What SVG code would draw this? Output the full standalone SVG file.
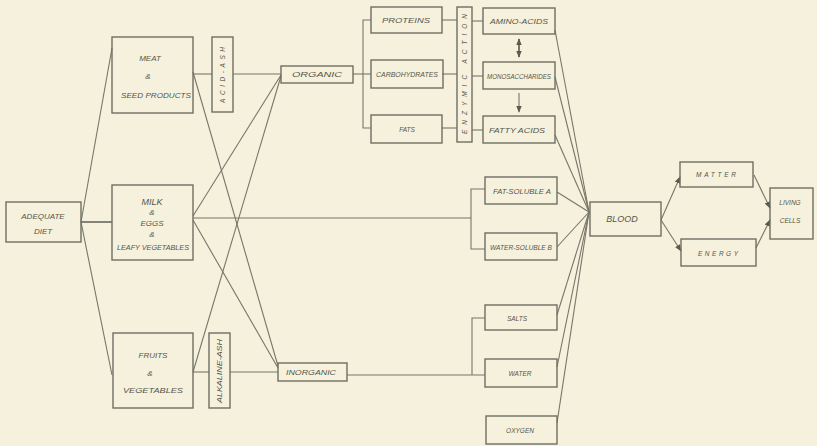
<svg xmlns="http://www.w3.org/2000/svg" width="817" height="446" viewBox="0 0 817 446">
<defs>
<style>
.bx{fill:none;stroke:#6e6e62;stroke-width:1.4}
.ln{fill:none;stroke:#76766a;stroke-width:1.1}
.t{font-family:"Liberation Sans",Arial,sans-serif;font-style:italic;font-size:8px;fill:#55554a;text-anchor:middle}
.s{font-size:6.5px}
.b{font-size:9px}
</style>
<marker id="ah" viewBox="0 0 10 10" refX="9" refY="5" markerWidth="7" markerHeight="7" markerUnits="userSpaceOnUse" orient="auto-start-reverse">
<path d="M0,1 L10,5 L0,9 Z" fill="#5a5a4e"/>
</marker>
</defs>
<rect width="817" height="446" fill="#f5f1dc"/>

<g id="connectors">
<line class="ln" x1="81" y1="222" x2="112" y2="48"/>
<line class="ln" x1="81" y1="222" x2="112" y2="222" style="stroke-width:1.8"/>
<line class="ln" x1="81" y1="222" x2="112" y2="375"/>
<line class="ln" x1="193" y1="74" x2="212" y2="74"/>
<line class="ln" x1="233" y1="74" x2="281" y2="74"/>
<line class="ln" x1="193" y1="372" x2="209" y2="372"/>
<line class="ln" x1="230" y1="372" x2="278" y2="372"/>
<line class="ln" x1="193" y1="72" x2="278" y2="366"/>
<line class="ln" x1="193" y1="216" x2="281" y2="75"/>
<line class="ln" x1="193" y1="220" x2="278" y2="368"/>
<line class="ln" x1="193" y1="372" x2="281" y2="76"/>
<line class="ln" x1="193" y1="218" x2="471" y2="218"/>
<polyline class="ln" points="485,189 471,189 471,249 485,249"/>
<line class="ln" x1="353" y1="74" x2="371" y2="74"/>
<polyline class="ln" points="371,20 363,20 363,128 371,128"/>
<line class="ln" x1="442" y1="20" x2="457" y2="20"/>
<line class="ln" x1="442" y1="74" x2="457" y2="74"/>
<line class="ln" x1="442" y1="128" x2="457" y2="128"/>
<line class="ln" x1="472" y1="21" x2="483" y2="21"/>
<line class="ln" x1="472" y1="76" x2="483" y2="76"/>
<line class="ln" x1="472" y1="130" x2="483" y2="130"/>
<line class="ln" x1="347" y1="375" x2="485" y2="375"/>
<polyline class="ln" points="472,375 472,318 485,318"/>
<line class="ln" x1="519" y1="39" x2="519" y2="57" style="stroke-width:2" marker-start="url(#ah)" marker-end="url(#ah)"/>
<line class="ln" x1="519" y1="93" x2="519" y2="112" marker-end="url(#ah)"/>
<line class="ln" x1="555" y1="30" x2="589" y2="212"/>
<line class="ln" x1="555" y1="77" x2="589" y2="212"/>
<line class="ln" x1="555" y1="135" x2="589" y2="212"/>
<line class="ln" x1="557" y1="192" x2="589" y2="212"/>
<line class="ln" x1="557" y1="247" x2="589" y2="212"/>
<line class="ln" x1="557" y1="315" x2="589" y2="212"/>
<line class="ln" x1="557" y1="367" x2="589" y2="212"/>
<line class="ln" x1="557" y1="423" x2="589" y2="212"/>
<line class="ln" x1="661" y1="220" x2="680" y2="177" marker-end="url(#ah)"/>
<line class="ln" x1="661" y1="220" x2="681" y2="251" marker-end="url(#ah)"/>
<line class="ln" x1="754" y1="175" x2="770" y2="208" marker-end="url(#ah)"/>
<line class="ln" x1="756" y1="248" x2="770" y2="220" marker-end="url(#ah)"/>
</g>

<g id="adequate-diet"><rect class="bx" x="6" y="202" width="75" height="40"/>
<text class="t" x="43" y="219">ADEQUATE</text><text class="t" x="43" y="234">DIET</text></g>

<g id="meat"><rect class="bx" x="112" y="37" width="81" height="76"/>
<text class="t" x="150" y="61">MEAT</text><text class="t" x="148" y="79">&amp;</text>
<text class="t" x="156" y="98" textLength="70" lengthAdjust="spacingAndGlyphs">SEED PRODUCTS</text></g>

<g id="milk"><rect class="bx" x="112" y="185" width="81" height="75"/>
<text class="t b" x="152" y="205">MILK</text><text class="t" x="152" y="215">&amp;</text>
<text class="t" x="152" y="226">EGGS</text><text class="t" x="152" y="237">&amp;</text>
<text class="t" x="153" y="250" textLength="72" lengthAdjust="spacingAndGlyphs">LEAFY VEGETABLES</text></g>

<g id="fruits"><rect class="bx" x="113" y="333" width="80" height="75"/>
<text class="t" x="153" y="358">FRUITS</text><text class="t" x="150" y="376">&amp;</text>
<text class="t" x="153" y="393" textLength="60" lengthAdjust="spacingAndGlyphs">VEGETABLES</text></g>

<g id="acid-ash"><rect class="bx" x="212" y="37" width="21" height="75"/>
<text class="t s" transform="translate(225,75) rotate(-90)" textLength="56" lengthAdjust="spacing">ACID-ASH</text></g>

<g id="alkaline-ash"><rect class="bx" x="209" y="333" width="21" height="75"/>
<text class="t s" transform="translate(222,371) rotate(-90)" textLength="64" lengthAdjust="spacingAndGlyphs">ALKALINE-ASH</text></g>

<g id="organic"><rect class="bx" x="281" y="66" width="72" height="17"/>
<text class="t s" x="317" y="77" textLength="50" lengthAdjust="spacingAndGlyphs">ORGANIC</text></g>

<g id="inorganic"><rect class="bx" x="278" y="363" width="69" height="18"/>
<text class="t s" x="311" y="375" textLength="50" lengthAdjust="spacingAndGlyphs">INORGANIC</text></g>

<g id="proteins"><rect class="bx" x="371" y="7" width="71" height="26"/>
<text class="t s" x="406" y="23" textLength="48" lengthAdjust="spacingAndGlyphs">PROTEINS</text></g>
<g id="carbohydrates"><rect class="bx" x="371" y="60" width="72" height="28"/>
<text class="t s" x="407" y="77" textLength="62" lengthAdjust="spacingAndGlyphs">CARBOHYDRATES</text></g>
<g id="fats"><rect class="bx" x="371" y="115" width="71" height="28"/>
<text class="t s" x="407" y="132">FATS</text></g>

<g id="enzymic-action"><rect class="bx" x="457" y="7" width="15" height="135"/>
<text class="t s" transform="translate(467,74) rotate(-90)" textLength="120" lengthAdjust="spacing">ENZYMIC ACTION</text></g>

<g id="amino-acids"><rect class="bx" x="483" y="8" width="72" height="26"/>
<text class="t s" x="519" y="24" textLength="58" lengthAdjust="spacingAndGlyphs">AMINO-ACIDS</text></g>
<g id="monosaccharides"><rect class="bx" x="483" y="62" width="72" height="27"/>
<text class="t s" x="519" y="79" textLength="64" lengthAdjust="spacingAndGlyphs">MONOSACCHARIDES</text></g>
<g id="fatty-acids"><rect class="bx" x="483" y="116" width="72" height="27"/>
<text class="t s" x="517" y="133" textLength="56" lengthAdjust="spacingAndGlyphs">FATTY ACIDS</text></g>

<g id="fat-soluble-a"><rect class="bx" x="485" y="177" width="72" height="27"/>
<text class="t s" x="522" y="194" textLength="58" lengthAdjust="spacingAndGlyphs">FAT-SOLUBLE A</text></g>
<g id="water-soluble-b"><rect class="bx" x="485" y="233" width="72" height="27"/>
<text class="t s" x="521" y="250" textLength="62" lengthAdjust="spacingAndGlyphs">WATER-SOLUBLE B</text></g>

<g id="salts"><rect class="bx" x="485" y="305" width="72" height="25"/>
<text class="t s" x="517" y="321">SALTS</text></g>
<g id="water"><rect class="bx" x="485" y="359" width="72" height="28"/>
<text class="t s" x="520" y="376">WATER</text></g>
<g id="oxygen"><rect class="bx" x="486" y="416" width="71" height="28"/>
<text class="t s" x="520" y="433">OXYGEN</text></g>

<g id="blood"><rect class="bx" x="590" y="202" width="71" height="34"/>
<text class="t b" x="622" y="222">BLOOD</text></g>
<g id="matter"><rect class="bx" x="680" y="162" width="73" height="25"/>
<text class="t s" x="716" y="177" textLength="40" lengthAdjust="spacing">MATTER</text></g>
<g id="energy"><rect class="bx" x="681" y="239" width="75" height="27"/>
<text class="t s" x="718" y="256" textLength="40" lengthAdjust="spacing">ENERGY</text></g>
<g id="living-cells"><rect class="bx" x="770" y="188" width="43" height="51"/>
<text class="t s" x="790" y="205">LIVING</text><text class="t s" x="790" y="223">CELLS</text></g>
</svg>
